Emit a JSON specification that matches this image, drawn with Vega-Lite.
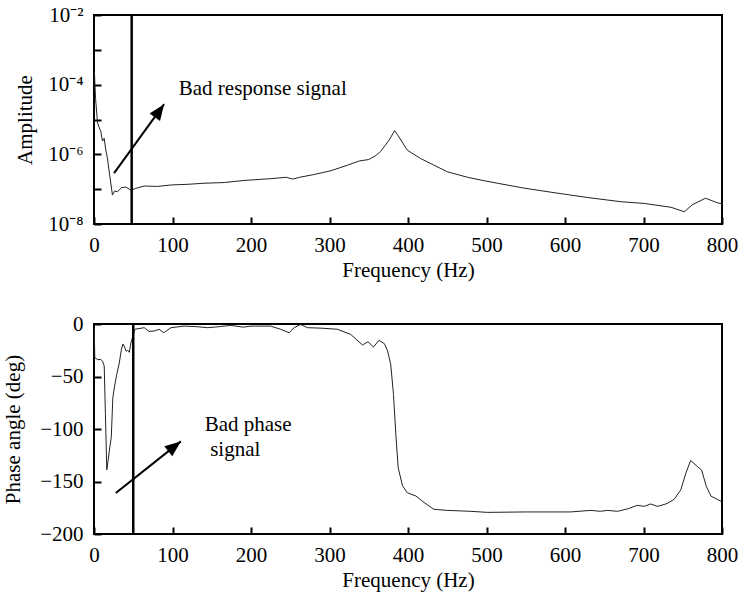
{
  "$schema": "https://vega.github.io/schema/vega-lite/v6.json",
  "background": "white",
  "padding": {"left": 1, "top": 3, "right": 5, "bottom": 5},
  "spacing": 31,
  "config": {
    "font": "Liberation Serif, Times New Roman, serif",
    "view": {"stroke": "black", "strokeWidth": 2},
    "axis": {
      "labelFont": "Liberation Serif, Times New Roman, serif", "titleFont": "Liberation Serif, Times New Roman, serif",
      "labelFontSize": 21, "titleFontSize": 21, "titleFontWeight": "normal",
      "labelColor": "black", "titleColor": "black",
      "tickColor": "black", "tickWidth": 2, "tickSize": -7,
      "domain": false, "grid": false, "labelPadding": 10,
      "labelFlush": false, "labelOverlap": false
    },
    "axisX": {"labelPadding": 17, "titlePadding": 4},
    "axisY": {"labelPadding": 18},
    "text": {"font": "Liberation Serif, Times New Roman, serif", "fontSize": 21, "color": "black"}
  },
  "datasets": {
    "amp": [
      {"f": 0.5, "a": 2.34e-4}, {"f": 2, "a": 3.98e-5}, {"f": 4.5, "a": 7.94e-6}, {"f": 8.7, "a": 4.47e-6},
      {"f": 10.8, "a": 2.40e-6}, {"f": 13, "a": 2.88e-6}, {"f": 15, "a": 1.32e-6}, {"f": 17, "a": 7.94e-7},
      {"f": 20, "a": 2.51e-7}, {"f": 23.5, "a": 6.76e-8}, {"f": 26, "a": 8.71e-8}, {"f": 30, "a": 8.51e-8},
      {"f": 35, "a": 1.10e-7}, {"f": 40.5, "a": 1.15e-7}, {"f": 47, "a": 9.33e-8}, {"f": 53, "a": 1.05e-7},
      {"f": 64, "a": 1.23e-7}, {"f": 81, "a": 1.20e-7}, {"f": 98, "a": 1.32e-7}, {"f": 120, "a": 1.38e-7},
      {"f": 140, "a": 1.48e-7}, {"f": 166, "a": 1.55e-7}, {"f": 191, "a": 1.78e-7}, {"f": 225, "a": 2.00e-7},
      {"f": 245, "a": 2.19e-7}, {"f": 253, "a": 1.95e-7}, {"f": 262, "a": 2.19e-7}, {"f": 280, "a": 2.63e-7},
      {"f": 302, "a": 3.39e-7}, {"f": 323, "a": 4.90e-7}, {"f": 338, "a": 6.46e-7}, {"f": 350, "a": 7.08e-7},
      {"f": 358, "a": 8.91e-7}, {"f": 365, "a": 1.20e-6}, {"f": 376, "a": 2.57e-6}, {"f": 383, "a": 4.79e-6},
      {"f": 387, "a": 3.55e-6}, {"f": 391, "a": 2.57e-6}, {"f": 399, "a": 1.32e-6}, {"f": 416, "a": 7.59e-7},
      {"f": 433, "a": 4.90e-7}, {"f": 450, "a": 3.16e-7}, {"f": 476, "a": 2.19e-7}, {"f": 493, "a": 1.82e-7},
      {"f": 514, "a": 1.48e-7}, {"f": 548, "a": 1.07e-7}, {"f": 586, "a": 7.94e-8}, {"f": 629, "a": 5.75e-8},
      {"f": 671, "a": 4.37e-8}, {"f": 701, "a": 3.89e-8}, {"f": 735, "a": 3.02e-8}, {"f": 752, "a": 2.24e-8},
      {"f": 762, "a": 3.55e-8}, {"f": 779, "a": 5.50e-8}, {"f": 794, "a": 4.07e-8}, {"f": 800, "a": 3.80e-8}
    ],
    "phase": [
      {"f": 0.3, "p": -3.5}, {"f": 1, "p": -32}, {"f": 5, "p": -34}, {"f": 8.7, "p": -33.7}, {"f": 11, "p": -35.6},
      {"f": 13, "p": -40}, {"f": 14.5, "p": -85}, {"f": 16.3, "p": -139}, {"f": 18, "p": -130}, {"f": 20, "p": -118},
      {"f": 22, "p": -108}, {"f": 24, "p": -70}, {"f": 26, "p": -60}, {"f": 29, "p": -48}, {"f": 32, "p": -38},
      {"f": 35, "p": -24}, {"f": 37, "p": -19}, {"f": 39, "p": -22}, {"f": 41, "p": -26}, {"f": 43, "p": -25},
      {"f": 45, "p": -27}, {"f": 47, "p": -18}, {"f": 52, "p": -5}, {"f": 64, "p": -3.5}, {"f": 70, "p": -7},
      {"f": 76.6, "p": -6.7}, {"f": 83, "p": -5.1}, {"f": 89, "p": -8.3}, {"f": 98, "p": -3.5}, {"f": 115, "p": -2},
      {"f": 130, "p": -2.5}, {"f": 145, "p": -3.5}, {"f": 160, "p": -2.5}, {"f": 174, "p": -1.3}, {"f": 190, "p": -3},
      {"f": 200, "p": -2}, {"f": 225, "p": -2}, {"f": 238, "p": -5.1}, {"f": 248.5, "p": -8.3}, {"f": 255, "p": -3.5},
      {"f": 263, "p": -0.5}, {"f": 272, "p": -3.5}, {"f": 290, "p": -4}, {"f": 310, "p": -5}, {"f": 327, "p": -9.9},
      {"f": 342, "p": -20}, {"f": 349, "p": -16.9}, {"f": 356, "p": -21.9}, {"f": 363, "p": -15.6}, {"f": 370, "p": -18.8},
      {"f": 374, "p": -25.7}, {"f": 378, "p": -38.5}, {"f": 381.5, "p": -67}, {"f": 384.5, "p": -105}, {"f": 387.5, "p": -137},
      {"f": 393, "p": -154}, {"f": 399, "p": -160.7}, {"f": 410, "p": -163.8}, {"f": 420.5, "p": -170}, {"f": 433, "p": -176.5},
      {"f": 450, "p": -177.5}, {"f": 480, "p": -178.4}, {"f": 501, "p": -179.4}, {"f": 550, "p": -179}, {"f": 607, "p": -179},
      {"f": 633, "p": -177.5}, {"f": 645, "p": -178.4}, {"f": 654, "p": -177.5}, {"f": 667, "p": -178.4}, {"f": 680, "p": -176},
      {"f": 692, "p": -172.7}, {"f": 701, "p": -173.7}, {"f": 709, "p": -171.4}, {"f": 718, "p": -173.7}, {"f": 730, "p": -171},
      {"f": 739, "p": -167}, {"f": 747.5, "p": -158}, {"f": 754, "p": -142}, {"f": 760, "p": -130}, {"f": 769, "p": -136},
      {"f": 774, "p": -139}, {"f": 780, "p": -154.6}, {"f": 786, "p": -164}, {"f": 794, "p": -167}, {"f": 799, "p": -169}
    ]
  },
  "vconcat": [
    {
      "width": 628,
      "height": 209,
      "layer": [
        {
          "data": {"name": "amp"},
          "mark": {"type": "line", "color": "#222", "strokeWidth": 1},
          "encoding": {
            "x": {"field": "f", "type": "quantitative", "scale": {"domain": [0, 800], "nice": false},
                  "axis": {"title": "Frequency (Hz)", "values": [0, 100, 200, 300, 400, 500, 600, 700, 800]}},
            "y": {"field": "a", "type": "quantitative", "scale": {"type": "log", "domain": [1e-8, 1e-2], "nice": false},
                  "axis": {"title": "Amplitude", "values": [1e-8, 1e-7, 1e-6, 1e-5, 1e-4, 1e-3, 1e-2],
                           "labelExpr": "round(log(datum.value)/LN10) == -2 ? '10⁻²' : round(log(datum.value)/LN10) == -4 ? '10⁻⁴' : round(log(datum.value)/LN10) == -6 ? '10⁻⁶' : round(log(datum.value)/LN10) == -8 ? '10⁻⁸' : ''",
                           "titlePadding": 12}}
          }
        },
        {
          "data": {"values": [{"f": 48}]},
          "mark": {"type": "rule", "color": "black", "strokeWidth": 2.5},
          "encoding": {"x": {"field": "f", "type": "quantitative"}}
        },
        {
          "data": {"values": [{"f": 25.6, "a": 2.88e-7, "f2": 89.3, "a2": 2.75e-5}]},
          "mark": {"type": "rule", "color": "black", "strokeWidth": 2},
          "encoding": {
            "x": {"field": "f", "type": "quantitative"}, "y": {"field": "a", "type": "quantitative"},
            "x2": {"field": "f2"}, "y2": {"field": "a2"}
          }
        },
        {
          "data": {"values": [{"f": 89.3, "a": 2.75e-5, "ang": 35.5}]},
          "mark": {"type": "point", "shape": "M0,0L0.4,1L-0.4,1Z", "filled": true, "color": "black", "opacity": 1, "size": 1024},
          "encoding": {
            "x": {"field": "f", "type": "quantitative"}, "y": {"field": "a", "type": "quantitative"},
            "angle": {"field": "ang", "type": "quantitative", "scale": null}
          }
        },
        {
          "data": {"values": [{"f": 108, "a": 7.4e-5, "t": "Bad response signal"}]},
          "mark": {"type": "text", "align": "left", "baseline": "middle"},
          "encoding": {
            "x": {"field": "f", "type": "quantitative"}, "y": {"field": "a", "type": "quantitative"},
            "text": {"field": "t"}
          }
        }
      ]
    },
    {
      "width": 628,
      "height": 210,
      "layer": [
        {
          "data": {"name": "phase"},
          "mark": {"type": "line", "color": "#222", "strokeWidth": 1},
          "encoding": {
            "x": {"field": "f", "type": "quantitative", "scale": {"domain": [0, 800], "nice": false},
                  "axis": {"title": "Frequency (Hz)", "values": [0, 100, 200, 300, 400, 500, 600, 700, 800]}},
            "y": {"field": "p", "type": "quantitative", "scale": {"domain": [-200, 0], "nice": false},
                  "axis": {"title": "Phase angle (deg)", "values": [-200, -150, -100, -50, 0], "titlePadding": 16}}
          }
        },
        {
          "data": {"values": [{"f": 50}]},
          "mark": {"type": "rule", "color": "black", "strokeWidth": 2.5},
          "encoding": {"x": {"field": "f", "type": "quantitative"}}
        },
        {
          "data": {"values": [{"f": 27.8, "p": -161, "f2": 110.6, "p2": -111.8}]},
          "mark": {"type": "rule", "color": "black", "strokeWidth": 2},
          "encoding": {
            "x": {"field": "f", "type": "quantitative"}, "y": {"field": "p", "type": "quantitative"},
            "x2": {"field": "f2"}, "y2": {"field": "p2"}
          }
        },
        {
          "data": {"values": [{"f": 110.6, "p": -111.8, "ang": 51.6}]},
          "mark": {"type": "point", "shape": "M0,0L0.4,1L-0.4,1Z", "filled": true, "color": "black", "opacity": 1, "size": 1024},
          "encoding": {
            "x": {"field": "f", "type": "quantitative"}, "y": {"field": "p", "type": "quantitative"},
            "angle": {"field": "ang", "type": "quantitative", "scale": null}
          }
        },
        {
          "data": {"values": [{"f": 141, "p": -96, "t": "Bad phase"}, {"f": 148, "p": -119.7, "t": "signal"}]},
          "mark": {"type": "text", "align": "left", "baseline": "middle"},
          "encoding": {
            "x": {"field": "f", "type": "quantitative"}, "y": {"field": "p", "type": "quantitative"},
            "text": {"field": "t"}
          }
        }
      ]
    }
  ]
}
